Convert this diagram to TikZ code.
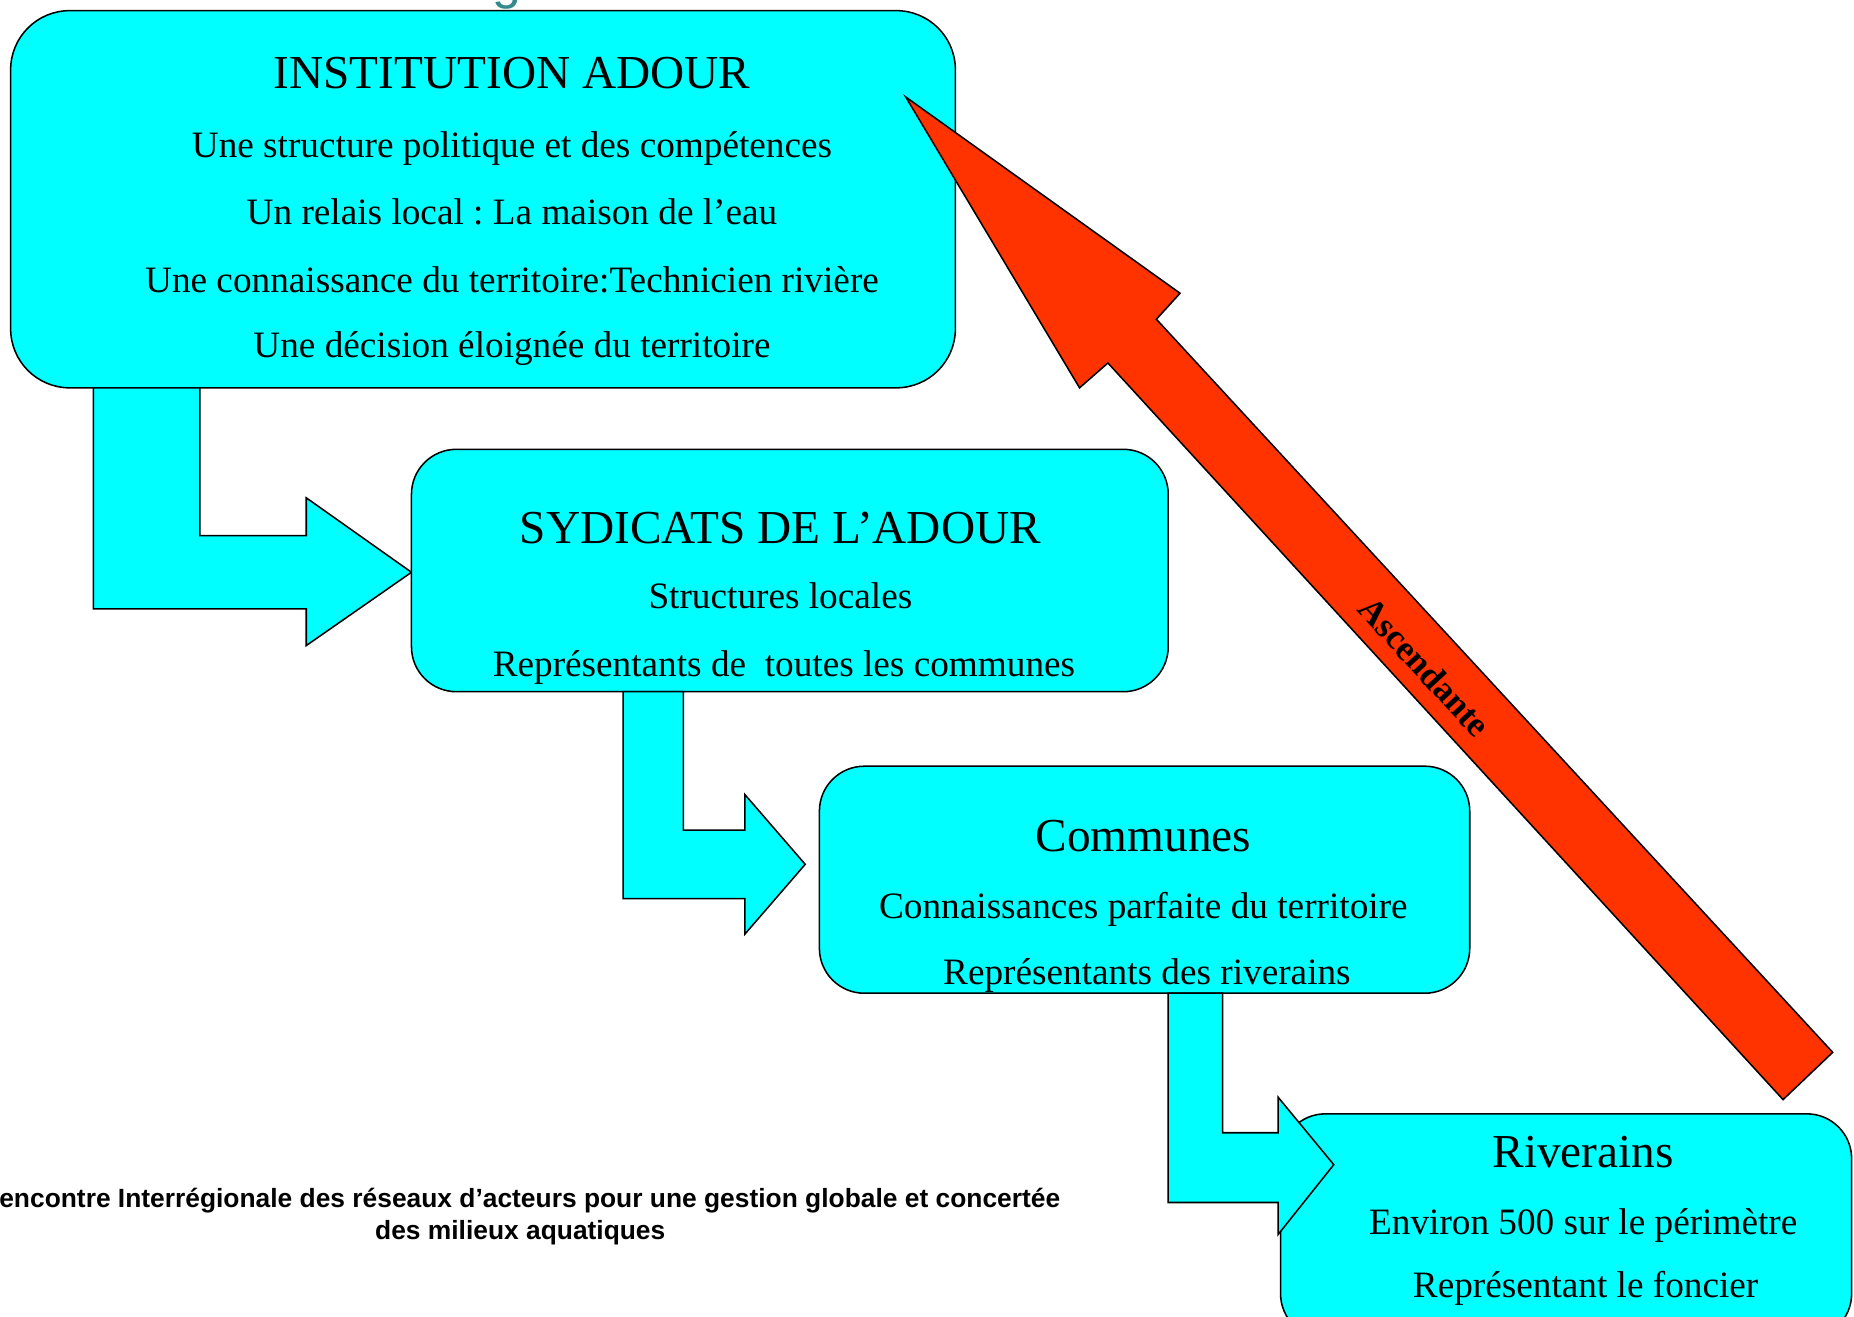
\documentclass[tikz,border=0pt]{standalone}
\usepackage{fontspec}
\setmainfont{Liberation Serif}
\setsansfont{Liberation Sans}
\definecolor{boxcyan}{RGB}{0,255,255}
\definecolor{arrowred}{RGB}{255,51,0}
\definecolor{titleteal}{RGB}{51,139,139}
\frenchspacing
\begin{document}
\begin{tikzpicture}[x=1pt,y=-1pt,
  boxnode/.style={draw=black, fill=boxcyan, line width=1.3pt, rounded corners=#1,
    anchor=north west, inner sep=0pt, outer sep=0pt},
  blockarrow/.style={draw=black, fill=boxcyan, line width=1.3pt, line join=miter},
  redarrow/.style={draw=black, fill=arrowred, line width=1.3pt, line join=miter},
  titletext/.style={anchor=base, inner sep=0pt, font=\fontsize{40}{48}\selectfont},
  bodytext/.style={anchor=base, inner sep=0pt, font=\fontsize{31.5}{38}\selectfont},
  foottext/.style={anchor=base, inner sep=0pt, font=\sffamily\bfseries\fontsize{22.3}{27}\selectfont}]
\useasboundingbox (0,0) rectangle (1568,1113);
\clip (0,0) rectangle (1568,1113);

% fragment of the slide title above
\node[anchor=base, inner sep=0pt, text=titleteal, font=\sffamily\fontsize{44}{50}\selectfont] (gfrag) at (429,-1) {g};

% Box 1
\node[boxnode=50pt, minimum width=799pt, minimum height=319pt] (inst) at (9,9) {};
\node[titletext] (instT) at (433,75) {INSTITUTION ADOUR};
\node[bodytext] (instA) at (433,133) {Une structure politique et des compétences};
\node[bodytext] (instB) at (433,190) {Un relais local : La maison de l’eau};
\node[bodytext] (instC) at (433,247) {Une connaissance du territoire:Technicien rivière};
\node[bodytext] (instD) at (433,302) {Une décision éloignée du territoire};

% bent arrow 1
\draw[blockarrow] (79,328) -- (169,328) -- (169,453) -- (259,453) -- (259,421) -- (348,484)
  -- (259,546) -- (259,515) -- (79,515) -- cycle;

% Box 2
\node[boxnode=38pt, minimum width=640pt, minimum height=205pt] (syn) at (348,380) {};
\node[titletext] (synT) at (660,460) {SYDICATS DE L’ADOUR};
\node[bodytext] (synA) at (660,515) {Structures locales};
\node[bodytext] (synB) at (663,572) {Représentants de\ \ toutes les communes};

% bent arrow 2
\draw[blockarrow] (527,585) -- (578,585) -- (578,702) -- (630,702) -- (630,672) -- (681,731)
  -- (630,790) -- (630,760) -- (527,760) -- cycle;

% Box 3
\node[boxnode=38pt, minimum width=550pt, minimum height=192pt] (com) at (693,648) {};
\node[titletext] (comT) at (967,720) {Communes};
\node[bodytext] (comA) at (967,777) {Connaissances parfaite du territoire};
\node[bodytext] (comB) at (970,833) {Représentants des riverains};

% Box 4
\node[boxnode=38pt, minimum width=483pt, minimum height=190pt] (riv) at (1083,942) {};
\node[titletext] (rivT) at (1339,987) {Riverains};
\node[bodytext] (rivA) at (1339,1044) {Environ 500 sur le périmètre};
\node[bodytext] (rivB) at (1341,1097) {Représentant le foncier};

% bent arrow 3
\draw[blockarrow] (988,840) -- (1034,840) -- (1034,958) -- (1081,958) -- (1081,928) -- (1128,985)
  -- (1081,1044) -- (1081,1017) -- (988,1017) -- cycle;

% red ascending arrow
\draw[redarrow] (766,82) -- (998,248) -- (978,270) -- (1550,890) -- (1508,930) -- (937,307)
  -- (913,328) -- cycle;
\node[inner sep=0pt, rotate=-47.3, font=\bfseries\fontsize{30}{36}\selectfont] (asc) at (1205,564) {Ascendante};

% footer
\node[foottext] (footA) at (440,1021) {Rencontre Interrégionale des réseaux d’acteurs pour une gestion globale et concertée};
\node[foottext] (footB) at (440,1048) {des milieux aquatiques};
\end{tikzpicture}
\end{document}
